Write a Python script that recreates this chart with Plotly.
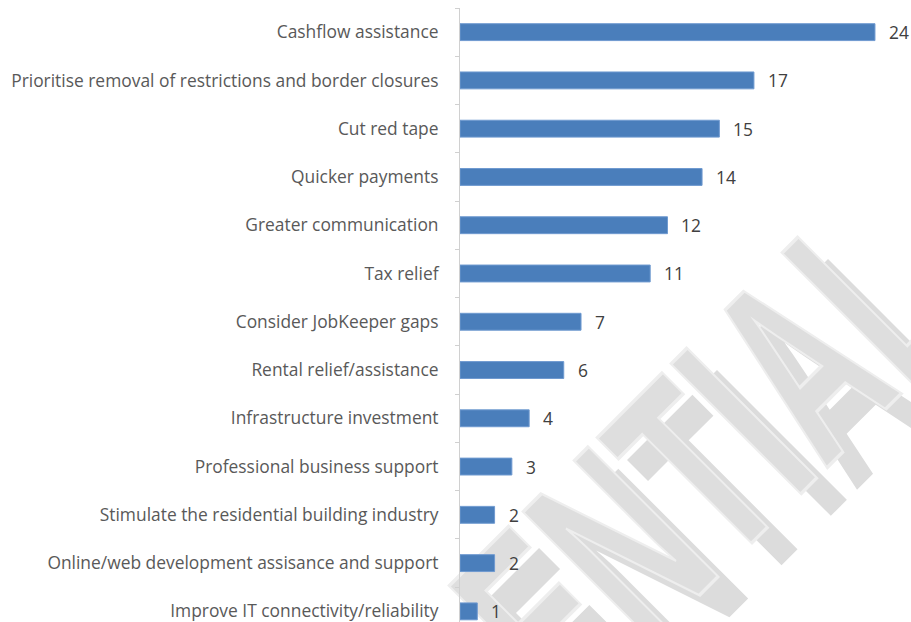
import plotly.graph_objects as go

# Survey responses: support measures requested, most frequent first
categories = [
    "Cashflow assistance",
    "Prioritise removal of restrictions and border closures",
    "Cut red tape",
    "Quicker payments",
    "Greater communication",
    "Tax relief",
    "Consider JobKeeper gaps",
    "Rental relief/assistance",
    "Infrastructure investment",
    "Professional business support",
    "Stimulate the residential building industry",
    "Online/web development assisance and support",
    "Improve IT connectivity/reliability",
]
counts = [24, 17, 15, 14, 12, 11, 7, 6, 4, 3, 2, 2, 1]

watermark_text = "CONFIDENTIAL"

W, H = 911, 622
ML, MR, MT, MB = 460, 0, 8, 0
LABEL_FONT = "Open Sans"
LABEL_SIZE = 17.4

fig = go.Figure()
fig.add_trace(
    go.Bar(
        x=counts,
        y=categories,
        orientation="h",
        width=0.35,
        marker=dict(color="#4A7EBB", line=dict(color="#6F9AD0", width=1)),
        hoverinfo="skip",
        showlegend=False,
    )
)

annotations = []
# value labels to the right of each bar
for c, v in zip(categories, counts):
    annotations.append(
        dict(
            x=v, y=c, xref="x", yref="y",
            text=str(v), showarrow=False,
            xanchor="left", yanchor="middle", xshift=12,
            font=dict(family=LABEL_FONT, size=LABEL_SIZE, color="#404040"),
        )
    )

# diagonal watermark: a plain grey copy underneath, an outlined copy on top
pw = W - ML - MR
ph = H - MT - MB
for (px, py) in [(523, 692), (493, 670)]:
    annotations.append(
        dict(
            x=(px - ML) / pw, y=1 - (py - MT) / ph,
            xref="paper", yref="paper",
            text=watermark_text, showarrow=False,
            xanchor="center", yanchor="middle",
            textangle=-45,
            font=dict(family="Liberation Sans", size=157, color="#DCDCDC", weight="bold"),
        )
    )

fig.update_layout(
    width=W, height=H,
    margin=dict(l=ML, r=MR, t=MT, b=MB, pad=0),
    paper_bgcolor="white",
    plot_bgcolor="rgba(0,0,0,0)",
    bargap=0.65,
    annotations=annotations,
    xaxis=dict(
        range=[0, pw / 17.29],
        visible=False,
        fixedrange=True,
    ),
    yaxis=dict(
        type="category",
        categoryorder="array",
        categoryarray=categories,
        range=[ph / 48.27 - 0.5, -0.5],
        showline=True, linecolor="#D0D0D0", linewidth=1,
        ticks="outside", tickson="boundaries", ticklen=4, tickcolor="#D0D0D0",
        ticklabelstandoff=17,
        showgrid=False, zeroline=False,
        tickfont=dict(family=LABEL_FONT, size=LABEL_SIZE, color="#595959"),
        fixedrange=True,
    ),
)

# stretch the watermark along the letter height, outline the top copy,
# and move both copies behind the bars
post = """
var gd = document.getElementById('{plot_id}');
var paper = gd.querySelector('svg.main-svg');
var ref = paper.querySelector('.cartesianlayer');
var k = 0;
gd.querySelectorAll('g.annotation').forEach(function(a) {
  var t = a.querySelector('text.annotation-text');
  if (!t || t.textContent !== 'CONFIDENTIAL') return;
  var b = t.getBBox();
  var cx = b.x + b.width / 2, cy = b.y + b.height / 2;
  t.setAttribute('transform', 'translate(' + cx + ',' + cy + ') scale(1,1.7) translate(' + (-cx) + ',' + (-cy) + ')');
  if (k === 1) {
    t.style.stroke = '#EEEEEE';
    t.style.strokeWidth = '2px';
    t.style.fill = '#DEDEDE';
  }
  paper.insertBefore(a, ref);
  k += 1;
});
"""

fig.write_html("out.html", post_script=post, config={"displayModeBar": False})
